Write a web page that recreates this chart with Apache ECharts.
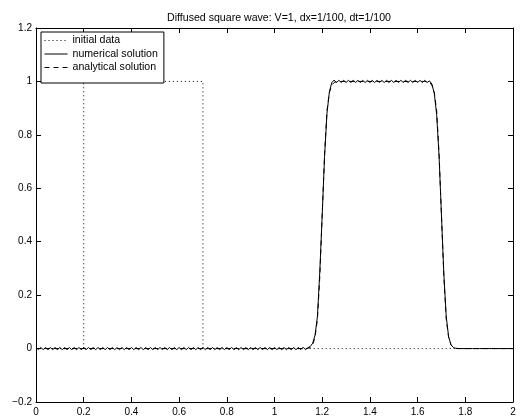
<!DOCTYPE html>
<html>
<head>
<meta charset="utf-8">
<script src="https://cdn.jsdelivr.net/npm/echarts@6/dist/echarts.min.js"></script>
<style>html,body{margin:0;padding:0;background:#fff}#c{width:521px;height:419px}</style>
</head>
<body>
<div id="c"></div>
<script>
// ---- data ----
var titleText = 'Diffused square wave: V=1, dx=1/100, dt=1/100';
var seriesNames = ['initial data', 'numerical solution', 'analytical solution'];
var xTicks = [0, 0.2, 0.4, 0.6, 0.8, 1, 1.2, 1.4, 1.6, 1.8, 2];
var yTicks = [-0.2, 0, 0.2, 0.4, 0.6, 0.8, 1, 1.2];

// initial data (square wave)
var initialX = [0, 0.2, 0.2, 0.7, 0.7, 2];
var initialY = [0, 0, 1, 1, 0, 0];

// numerical solution, sampled at x = i/100, i = 0..200
var numericalY = [
  0.003,-0.003,0.004,-0.004,0.004,-0.004,0.004,-0.004,0.004,-0.004,
  0.004,-0.004,0.004,-0.004,0.004,-0.004,0.004,-0.004,0.004,-0.004,
  0.004,-0.004,0.004,-0.004,0.004,-0.004,0.004,-0.004,0.004,-0.004,
  0.004,-0.004,0.004,-0.004,0.004,-0.004,0.004,-0.004,0.004,-0.004,
  0.004,-0.004,0.004,-0.004,0.004,-0.004,0.004,-0.004,0.004,-0.004,
  0.004,-0.004,0.004,-0.004,0.004,-0.004,0.004,-0.004,0.004,-0.004,
  0.004,-0.004,0.004,-0.004,0.004,-0.004,0.004,-0.004,0.004,-0.004,
  0.004,-0.004,0.004,-0.004,0.004,-0.004,0.004,-0.004,0.004,-0.004,
  0.004,-0.004,0.004,-0.004,0.004,-0.004,0.004,-0.004,0.004,-0.004,
  0.004,-0.004,0.004,-0.004,0.004,-0.004,0.004,-0.004,0.004,-0.004,
  0.004,-0.004,0.004,-0.004,0.004,-0.004,0.004,-0.004,0.004,-0.004,
  0.004,-0.004,0.005,-0.004,
  0.003,0.008,0.02,0.05,0.12,0.29,0.5,0.72,0.88,0.96,0.995,
  1.005,0.996,1.004,0.996,1.004,0.996,1.004,0.996,1.004,0.996,
  1.004,0.996,1.004,0.996,1.004,0.996,1.004,0.996,1.004,0.996,
  1.004,0.996,1.004,0.996,1.004,0.996,1.004,0.996,1.004,0.996,
  1.004,0.996,1.004,0.996,1.004,0.996,1.004,0.996,1.004,0.996,
  1.002,0.99,0.955,0.875,0.72,0.5,0.28,0.12,0.045,0.014,0.004,0.001,
  0,0,0,0,0,0,0,0,0,0,0,0,0,0,0,0,0,0,0,0,0,0,0,0
];

// analytical solution
var analyticalX = [0, 1.13, 1.14, 1.15, 1.16, 1.17, 1.18, 1.19, 1.20, 1.21, 1.22, 1.23, 1.24, 1.25, 1.26, 1.27,
  1.63, 1.64, 1.65, 1.66, 1.67, 1.68, 1.69, 1.70, 1.71, 1.72, 1.73, 1.74, 1.75, 1.76, 1.77, 2];
var analyticalY = [0, 0, 0.001, 0.004, 0.014, 0.042, 0.11, 0.27, 0.5, 0.73, 0.89, 0.958, 0.986, 0.996, 0.999, 1,
  1, 0.999, 0.996, 0.986, 0.958, 0.89, 0.73, 0.5, 0.27, 0.11, 0.042, 0.014, 0.004, 0.001, 0, 0];

// ---- build ----
function pairs(xs, ys) { return xs.map(function (x, i) { return [x, ys[i]]; }); }
var numericalData = numericalY.map(function (y, i) { return [i / 100, y]; });

var FONT = '"Liberation Sans", Arial, Helvetica, sans-serif';
function fmt(v) {
  var s = String(parseFloat(v.toFixed(2)));
  return s.replace('-', '\u2212');
}
var axisCommon = {
  type: 'value',
  splitLine: { show: false },
  axisLine: { show: true, onZero: false, lineStyle: { color: '#000', width: 1 } },
  axisTick: { show: true, inside: true, length: 5, lineStyle: { color: '#000', width: 1 } },
  axisLabel: { color: '#000', fontSize: 10, fontFamily: FONT, formatter: fmt }
};
function ax(extra) { return echarts.util.merge(echarts.util.clone(axisCommon), extra, true); }

var chart = echarts.init(document.getElementById('c'), null, { renderer: 'canvas' });
chart.setOption({
  animation: false,
  backgroundColor: '#fff',
  title: {
    text: titleText, left: 274, top: 8, textAlign: 'center',
    textStyle: { fontSize: 10.6, fontWeight: 'normal', color: '#000', fontFamily: FONT }
  },
  legend: {
    data: seriesNames, orient: 'vertical', left: 41, top: 32,
    itemWidth: 23, itemHeight: 10, itemGap: 2.5,
    padding: [3, 6, 10, 3],
    backgroundColor: '#fff', borderColor: '#000', borderWidth: 1,
    itemStyle: { opacity: 0, color: 'transparent', borderWidth: 0 },
    lineStyle: { width: 1 },
    textStyle: { fontSize: 10.6, color: '#000', fontFamily: FONT },
    selectedMode: false
  },
  grid: { left: 36, right: 8, top: 28, bottom: 17, containLabel: false },
  xAxis: [
    ax({ min: 0, max: 2, interval: 0.2, position: 'bottom', axisLabel: { margin: 5 } }),
    ax({ min: 0, max: 2, interval: 0.2, position: 'top', axisLabel: { show: false } })
  ],
  yAxis: [
    ax({ min: -0.2, max: 1.2, interval: 0.2, position: 'left', axisLabel: { margin: 4 } }),
    ax({ min: -0.2, max: 1.2, interval: 0.2, position: 'right', axisLabel: { show: false } })
  ],
  series: [
    {
      name: seriesNames[0], type: 'line', data: pairs(initialX, initialY), symbol: 'none',
      lineStyle: { color: '#000', width: 1, type: [1, 3] }, itemStyle: { color: '#000' }, z: 2
    },
    {
      name: seriesNames[1], type: 'line', data: numericalData, symbol: 'none',
      lineStyle: { color: '#000', width: 1, type: 'solid' }, itemStyle: { color: '#000' }, z: 3
    },
    {
      name: seriesNames[2], type: 'line', data: pairs(analyticalX, analyticalY), symbol: 'none',
      lineStyle: { color: '#000', width: 1, type: [5, 4] }, itemStyle: { color: '#000' }, z: 4
    }
  ]
});
</script>
</body>
</html>
